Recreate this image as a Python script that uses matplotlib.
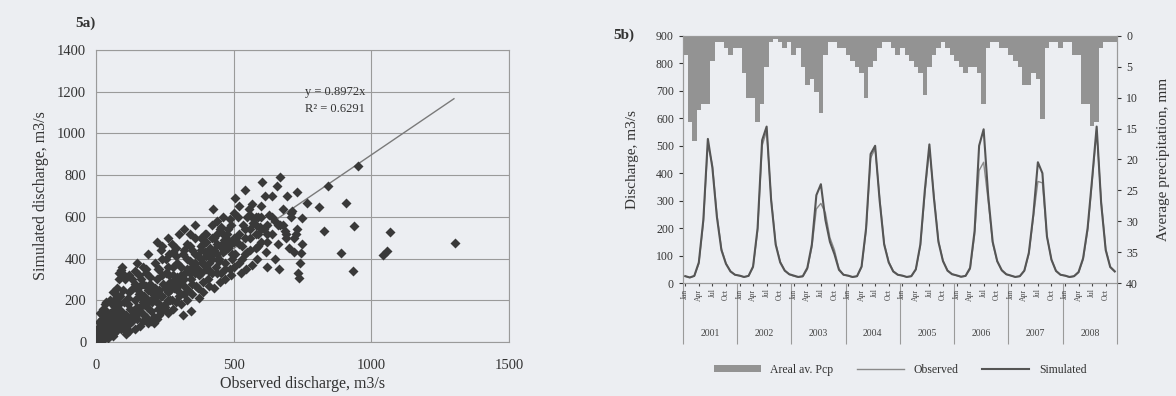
import matplotlib
matplotlib.use('Agg')
import matplotlib.pyplot as plt
import numpy as np
from matplotlib.patches import Patch
from matplotlib.lines import Line2D

plt.rcParams['font.family'] = ['Liberation Serif', 'DejaVu Serif']

# --- 5a) scatter: observed vs simulated discharge (m3/s) ---
scatter_pts = [
    # low flows
    (3, 2), (6, 10), (8, 4), (10, 18), (12, 8), (14, 30), (16, 14), (18, 45), (20, 22), (22, 60),
    (25, 35), (28, 80), (30, 50), (33, 100), (36, 70), (40, 120), (5, 40), (9, 65), (15, 140),
    (24, 160), (32, 180), (38, 190), (12, 95), (20, 110), (28, 130), (35, 150),
    (42, 20), (45, 60), (48, 100), (50, 140), (55, 35), (58, 180), (60, 75), (62, 120), (65, 200),
    (68, 160), (70, 50), (72, 230), (75, 95), (78, 260), (80, 140), (82, 300), (85, 180), (88, 220),
    (90, 60), (95, 110), (98, 250), (50, 200), (60, 240), (70, 170), (80, 210), (90, 150), (100, 190),
    (45, 85), (55, 130), (65, 45), (75, 70), (85, 120), (95, 80), (85, 330), (90, 345), (95, 360),
    (100, 320), (105, 300),
    (20, 5), (30, 25), (40, 40), (50, 55), (60, 30), (70, 90), (80, 80), (90, 100), (100, 100),
    (100, 60),
    # 100-200
    (105, 70), (110, 130), (115, 180), (120, 240), (125, 90), (130, 300), (135, 150), (140, 200),
    (145, 260), (150, 110), (155, 320), (160, 170), (165, 230), (170, 280), (175, 130), (180, 330),
    (185, 190), (190, 250), (195, 310), (200, 150), (110, 40), (120, 55), (130, 100), (140, 60),
    (150, 140), (160, 75), (170, 100), (180, 120), (190, 90), (200, 200), (115, 210), (125, 160),
    (135, 260), (145, 130), (155, 230), (165, 300), (175, 220), (185, 170), (195, 280), (120, 320),
    (140, 340), (160, 270), (180, 350), (200, 240), (150, 380), (170, 360), (190, 420),
    (110, 90), (120, 110), (130, 130), (140, 120), (150, 170), (160, 150), (170, 190), (180, 180),
    (190, 200), (140, 280), (160, 220), (180, 270), (200, 100),
    # 200-300
    (205, 190), (210, 120), (215, 260), (220, 300), (225, 160), (230, 350), (235, 220), (240, 400),
    (245, 280), (250, 170), (255, 330), (260, 240), (265, 420), (270, 290), (275, 200), (280, 360),
    (285, 260), (290, 450), (295, 310), (300, 220), (210, 90), (220, 110), (230, 130), (240, 150),
    (250, 180), (260, 140), (270, 200), (280, 160), (290, 190), (300, 240), (215, 380), (235, 440),
    (255, 400), (275, 470), (295, 380), (220, 480), (240, 460), (260, 500), (280, 430), (300, 520),
    (225, 350), (265, 320), (290, 410),
    (210, 210), (220, 230), (230, 250), (240, 220), (250, 260), (260, 270), (270, 250), (280, 280),
    (290, 300), (300, 290), (220, 190), (240, 320), (260, 360), (280, 320), (230, 180), (260, 200),
    (290, 270),
    # 300-400
    (305, 280), (310, 360), (315, 420), (320, 230), (325, 330), (330, 470), (335, 250), (340, 390),
    (345, 300), (350, 440), (355, 350), (360, 500), (365, 270), (370, 410), (375, 320), (380, 460),
    (385, 380), (390, 290), (395, 520), (400, 350), (310, 180), (330, 200), (350, 230), (370, 260),
    (390, 240), (320, 540), (340, 520), (360, 560), (380, 500), (400, 480), (315, 130), (345, 150),
    (375, 210), (395, 430), (330, 400), (360, 330), (390, 470),
    (310, 320), (320, 300), (330, 350), (340, 330), (350, 360), (360, 380), (370, 350), (380, 400),
    (390, 380), (400, 410), (320, 440), (340, 460), (360, 420), (380, 440), (320, 270), (350, 280),
    (380, 330),
    # 400-500
    (405, 300), (410, 380), (415, 450), (420, 330), (425, 420), (430, 500), (435, 360), (440, 470),
    (445, 400), (450, 540), (455, 330), (460, 430), (465, 490), (470, 380), (475, 520), (480, 450),
    (485, 350), (490, 560), (495, 420), (500, 480), (410, 270), (430, 260), (450, 290), (470, 300),
    (490, 320), (420, 560), (440, 580), (460, 600), (480, 540), (500, 620), (415, 340), (445, 390),
    (475, 460), (495, 400), (425, 640), (455, 550), (485, 590),
    (410, 430), (420, 400), (430, 440), (440, 420), (450, 460), (460, 470), (470, 440), (480, 490),
    (490, 470), (500, 500), (400, 520), (420, 500), (440, 520), (460, 520), (410, 340), (440, 330),
    (470, 350), (500, 360),
    # 500-600
    (505, 420), (510, 500), (520, 380), (530, 460), (540, 540), (550, 430), (560, 500), (570, 570),
    (580, 450), (590, 520), (600, 480), (515, 600), (535, 560), (555, 640), (575, 590), (595, 550),
    (525, 330), (545, 350), (565, 370), (585, 400), (520, 470), (540, 420), (560, 610), (580, 520),
    (600, 600), (505, 690), (518, 650), (540, 730), (565, 660), (590, 600),
    (520, 520), (540, 500), (560, 540), (580, 560), (600, 540), (530, 400), (560, 440), (590, 460),
    (580, 600), (550, 600),
    # 600-760
    (610, 540), (620, 480), (630, 610), (640, 520), (650, 580), (660, 470), (670, 560), (680, 640),
    (690, 500), (700, 450), (710, 620), (720, 430), (730, 540), (740, 380), (750, 470), (620, 360),
    (650, 400), (680, 560), (710, 600), (615, 700), (660, 560), (690, 520), (720, 500), (618, 430),
    (665, 350), (620, 520), (640, 600), (600, 650), (620, 560),
    # high flows / outliers
    (950, 843), (841, 749), (907, 665), (810, 649), (766, 668), (938, 558), (828, 533), (1066, 526),
    (1303, 475), (889, 429), (1041, 418), (1058, 435), (932, 342), (743, 426), (737, 305), (733, 329),
    (603, 765), (670, 789), (657, 750), (639, 702), (694, 702), (730, 717), (749, 596), (712, 630),
    (685, 532), (728, 518),
]
obs_q = [p[0] for p in scatter_pts]
sim_q = [p[1] for p in scatter_pts]
slope = 0.8972
r2 = 0.6291
reg_xmax = 1300

# --- 5b) monthly series 2001-2008 ---
years = ['2001', '2002', '2003', '2004', '2005', '2006', '2007', '2008']
month_lbls = ['Jan', 'Apr', 'Jul', 'Oct']
simulated = [
    25, 20, 26, 75, 230, 525, 420, 240, 120, 70, 42, 30,
    27, 22, 26, 60, 200, 520, 570, 300, 140, 75, 45, 32,
    27, 22, 25, 55, 140, 320, 360, 230, 150, 105, 48, 30,
    27, 22, 25, 60, 200, 470, 500, 300, 140, 75, 42, 30,
    27, 22, 25, 50, 140, 340, 505, 310, 150, 80, 45, 32,
    28, 23, 26, 55, 190, 500, 560, 320, 150, 80, 47, 32,
    27, 22, 25, 45, 110, 250, 440, 400, 170, 85, 44, 30,
    27, 22, 25, 40, 90, 200, 380, 570, 290, 120, 58, 42,
]
observed = [
    24, 20, 25, 70, 220, 505, 430, 250, 125, 72, 44, 30,
    26, 22, 25, 57, 190, 500, 555, 310, 145, 78, 47, 31,
    25, 21, 23, 50, 130, 270, 290, 255, 165, 120, 52, 30,
    26, 21, 24, 57, 190, 455, 490, 310, 145, 78, 44, 31,
    26, 22, 24, 48, 135, 325, 490, 320, 155, 82, 47, 33,
    27, 22, 25, 50, 175, 410, 440, 300, 145, 78, 45, 31,
    27, 22, 24, 44, 105, 240, 370, 365, 170, 85, 45, 30,
    26, 21, 24, 38, 85, 190, 370, 555, 300, 125, 60, 44,
]
precip = [
    3, 14, 17, 12, 11, 11, 4, 1, 1, 2, 3, 2,
    2, 6, 10, 10, 14, 11, 5, 1, 0.5, 1, 2, 1,
    3, 2, 5, 8, 7, 9, 12.5, 3, 1, 1, 2, 2,
    3, 4, 5, 6, 10, 5, 4, 2, 1, 1, 2, 3,
    2, 3, 4, 5, 6, 9.5, 5, 3, 2, 1, 2, 3,
    4, 5, 6, 5, 5, 6, 11, 2, 1, 1, 2, 2,
    3, 4, 5, 8, 8, 6, 7, 13.5, 2, 1, 1, 2,
    1, 1, 3, 3, 11, 11, 14.5, 14, 2, 1, 1, 1,
]

bg = '#eceef2'
W, H = 1176, 396
fig = plt.figure(figsize=(W / 100, H / 100), dpi=100, facecolor=bg)

# ---------------- left panel ----------------
ax1 = fig.add_axes([96 / W, (H - 342) / H, (509 - 96) / W, (342 - 50) / H])
ax1.set_facecolor(bg)
ax1.plot([0, reg_xmax], [0, slope * reg_xmax], color='#7a7a7a', lw=1.0, zorder=2)
ax1.plot(obs_q, sim_q, ls='none', marker='D', ms=5.0, mfc='#393939', mec='none', zorder=3)
ax1.text(760, 1200, f'y = {slope}x', fontsize=9, color='#333333', va='center')
ax1.text(760, 1115, f'R² = {r2}', fontsize=9, color='#333333', va='center')
ax1.set_xlim(0, 1500)
ax1.set_ylim(0, 1400)
ax1.set_xticks([0, 500, 1000, 1500])
ax1.set_yticks(np.arange(0, 1401, 200))
ax1.grid(True, color='#9a9a9a', lw=0.8)
ax1.set_axisbelow(True)
for s in ax1.spines.values():
    s.set_color('#9a9a9a')
ax1.tick_params(length=0, labelsize=10.5, colors='#333333')
ax1.tick_params(axis='x', pad=12)
ax1.tick_params(axis='y', pad=7)
ax1.set_xlabel('Observed discharge, m3/s', fontsize=11.5, color='#333333', labelpad=3)
ax1.set_ylabel('Simulated discharge, m3/s', fontsize=11.5, color='#333333', labelpad=6)
fig.text(75 / W, (H - 23) / H, '5a)', fontsize=11, fontweight='bold', color='#333333', va='center')

# ---------------- right panel ----------------
ax2 = fig.add_axes([683 / W, (H - 283) / H, (1117 - 683) / W, (283 - 36) / H])
tw = ax2.twinx()
ax2.set_zorder(tw.get_zorder() + 1)
ax2.patch.set_visible(False)
tw.set_facecolor(bg)

n = len(simulated)
xm = np.arange(n) + 0.5
tw.bar(xm, precip, width=1.0, color='#939393', lw=0)
tw.set_ylim(40, 0)
tw.set_yticks(np.arange(0, 41, 5))
tw.tick_params(labelsize=8.5, colors='#333333', length=3)
tw.set_ylabel('Average precipitation, mm', fontsize=11, color='#333333', labelpad=14)

ax2.plot(xm, observed, color='#8a8a8a', lw=1.0)
ax2.plot(xm, simulated, color='#555555', lw=1.5)
ax2.set_xlim(0, n)
ax2.set_ylim(0, 900)
ax2.set_yticks(np.arange(0, 901, 100))
ax2.tick_params(axis='y', labelsize=8.5, colors='#333333', length=3)
ax2.set_ylabel('Discharge, m3/s', fontsize=11, color='#333333', labelpad=12)

mpos = []
mlab = []
for k in range(len(years)):
    for j, m in zip([0, 3, 6, 9], month_lbls):
        mpos.append(12 * k + j + 0.5)
        mlab.append(m)
ax2.set_xticks(mpos, labels=mlab)
ax2.tick_params(axis='x', labelsize=5.5, rotation=90, length=2, colors='#444444', pad=2)
for s in list(ax2.spines.values()) + list(tw.spines.values()):
    s.set_color('#9a9a9a')

sec = ax2.secondary_xaxis('bottom')
sec.set_xticks(np.arange(0, n + 1, 12), labels=[''] * (len(years) + 1))
sec.set_xticks(np.arange(6, n, 12), labels=years, minor=True)
sec.tick_params(which='major', length=44, color='#9a9a9a', width=0.8)
sec.tick_params(which='minor', length=0, pad=33, labelsize=7, colors='#444444')
sec.spines['bottom'].set_visible(False)

fig.text(613 / W, (H - 35) / H, '5b)', fontsize=11, fontweight='bold', color='#333333', va='center')

handles = [Patch(facecolor='#939393', edgecolor='none'),
           Line2D([], [], color='#8a8a8a', lw=1.0),
           Line2D([], [], color='#555555', lw=1.5)]
fig.legend(handles, ['Areal av. Pcp', 'Observed', 'Simulated'], loc='center',
           bbox_to_anchor=(900 / W, (H - 370) / H), ncol=3, frameon=False,
           fontsize=8.5, handlelength=4, handleheight=0.5, columnspacing=2.0,
           labelcolor='#333333')

fig.savefig('out.png', dpi=100, facecolor=bg)
